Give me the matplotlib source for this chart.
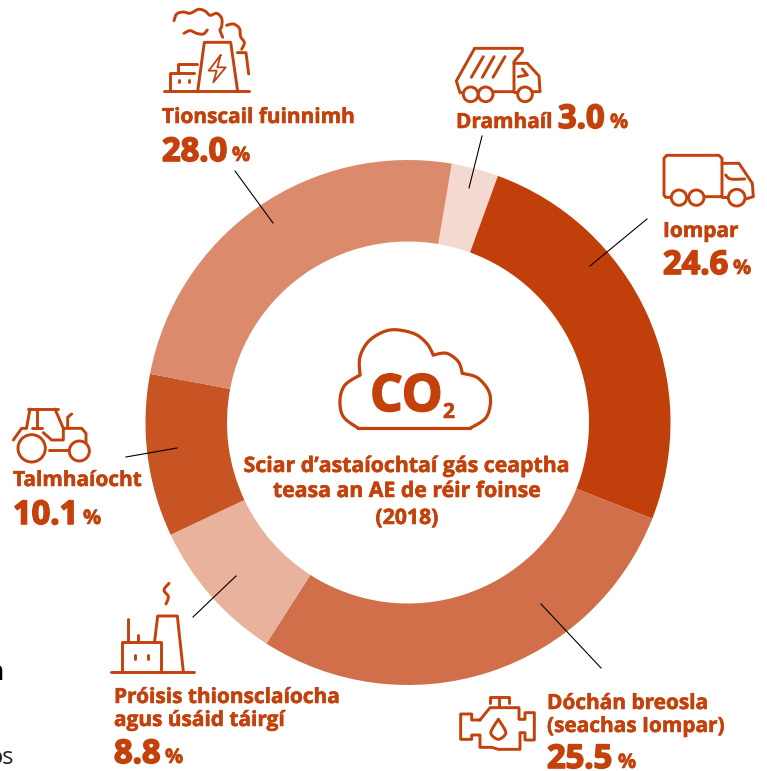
"""
plot.py

Doughnut chart of EU greenhouse gas emissions by source (2018), Irish labels.
"""

import numpy as np
import matplotlib
matplotlib.use('Agg')
import matplotlib.pyplot as plt
import matplotlib.patheffects as pe
from matplotlib.patches import Circle

plt.rcParams['font.family'] = ['Open Sans', 'DejaVu Sans']

sources = ['Dramhaíl', 'Iompar', 'Dóchán breosla\n(seachas Iompar)',
           'Próisis thionsclaíocha\nagus úsáid táirgí', 'Talmhaíocht', 'Tionscail fuinnimh']
# printed numbers
printed_values = ['3.0', '24.6', '25.5', '8.8', '10.1', '28.0']
# the drawn slices do not follow the printed numbers, these are read off the ring
slice_shares = [2.9, 25.4, 28.1, 8.9, 10.0, 24.7]
slice_colors = ['#F3D9CF', '#C13F0A', '#D06F49', '#E8B29D', '#C85323', '#DB8B6C']

ORANGE = '#C4410B'
center_lines = ['Sciar d’astaíochtaí gás ceaptha', 'teasa an AE de réir foinse', '(2018)']

fig = plt.figure(figsize=(7.67, 7.71), dpi=100)
ax = fig.add_axes([0, 0, 1, 1])

# y is inverted so that axes units are picture pixels, hence counterclock=True
ax.pie(slice_shares, colors=slice_colors, center=(408, 422.5), radius=262.5,
       startangle=-80.4, counterclock=True, frame=True,
       wedgeprops=dict(width=81.5, linewidth=0))
ax.set_xlim(0, 767)
ax.set_ylim(771, 0)
ax.set_aspect('equal')
ax.axis('off')


def smooth(pts, n=12):
    # Catmull-Rom through the points
    pts = np.array(pts, dtype=float)
    p = np.vstack([pts[0], pts, pts[-1]])
    out = []
    for i in range(1, len(p) - 2):
        for t in np.linspace(0, 1, n, endpoint=False):
            out.append(0.5 * (2 * p[i] + (p[i + 1] - p[i - 1]) * t
                              + (2 * p[i - 1] - 5 * p[i] + 4 * p[i + 1] - p[i + 2]) * t ** 2
                              + (3 * p[i] - p[i - 1] - 3 * p[i + 1] + p[i + 2]) * t ** 3))
    out.append(pts[-1])
    return np.array(out)


def icon(lines, curves=(), rings=(), offset=(0, 0), lw=2.1):
    # icon shapes are noted in 3x zoom coordinates
    for pts in lines:
        pts = np.array(pts, dtype=float) / 3 + offset
        ax.plot(pts[:, 0], pts[:, 1], color=ORANGE, lw=lw, solid_capstyle='round', solid_joinstyle='round')
    for pts in curves:
        pts = smooth(pts) / 3 + offset
        ax.plot(pts[:, 0], pts[:, 1], color=ORANGE, lw=lw, solid_capstyle='round', solid_joinstyle='round')
    for x, y, r in rings:
        ax.add_patch(Circle((x / 3 + offset[0], y / 3 + offset[1]), r / 3, fc='white', ec=ORANGE, lw=lw, zorder=3))


# power plant
icon([[(493, 274), (748, 274)], [(593, 274), (613, 127), (692, 127), (713, 274)],
      [(511, 274), (511, 219), (582, 219)], [(533, 219), (533, 192), (590, 192)],
      [(538, 241), (538, 247)], [(566, 241), (566, 247)], [(712, 158), (738, 158), (746, 222)]],
     curves=[[(522, 62), (530, 42), (550, 36), (570, 40), (595, 28), (615, 33), (630, 46),
              (650, 40), (665, 55), (665, 80), (660, 90), (668, 112)],
             [(680, 76), (700, 72), (718, 85), (722, 110), (733, 128), (725, 148)],
             [(552, 100), (570, 92), (590, 100), (610, 102), (622, 90)]])
icon([[(662, 165), (626, 212), (650, 212), (640, 247), (677, 202), (652, 202), (662, 165)]], lw=1.3)

# garbage truck
icon([[(272, 145), (415, 145), (415, 155), (390, 185), (390, 275), (328, 275)],
      [(272, 145), (217, 243), (228, 278), (240, 278)],
      [(390, 190), (430, 190), (465, 228), (468, 275), (446, 275)], [(390, 275), (402, 275)],
      [(415, 207), (430, 225), (403, 230)],
      [(298, 170), (262, 232)], [(330, 170), (295, 232)], [(363, 170), (327, 232)]],
     rings=[(260, 283, 22), (305, 283, 22), (423, 283, 22)], offset=(384, 0))

# lorry
icon([[(860, 592), (845, 592), (840, 585), (840, 475), (848, 466), (1005, 466), (1014, 475), (1014, 590), (960, 590)],
      [(1014, 490), (1065, 490), (1105, 550), (1108, 590), (1085, 597)], [(1014, 590), (1033, 590)]],
     curves=[[(1025, 525), (1040, 537), (1082, 537)]],
     rings=[(885, 593, 23), (937, 593, 23), (1058, 593, 25)], offset=(384, 0))

# small factory
icon([[(333, 335), (583, 335)], [(365, 335), (365, 247), (484, 247), (484, 335)],
      [(464, 243), (473, 168), (532, 168), (550, 335)],
      [(385, 176), (385, 247)], [(414, 225), (414, 247)],
      [(405, 285), (405, 297)], [(443, 285), (443, 297)]],
     curves=[[(507, 70), (492, 90), (505, 110), (498, 132)]], offset=(0, 560))

# engine
icon([[(150, 128), (150, 110), (207, 110), (207, 128)], [(178, 112), (178, 142)],
      [(120, 180), (150, 143), (237, 143), (237, 178), (255, 178), (255, 158), (283, 158), (283, 240),
       (255, 240), (255, 218), (240, 218), (240, 268), (175, 268), (155, 262), (120, 262), (120, 225),
       (95, 225), (95, 238), (62, 238), (62, 162), (95, 162), (95, 180), (120, 180)]],
     curves=[[(175, 178), (155, 210), (155, 225), (175, 238), (195, 225), (195, 210), (175, 178)]],
     offset=(440, 660))

# tractor
icon([[(148, 180), (208, 180)], [(85, 57), (175, 57)], [(90, 57), (80, 112)], [(112, 57), (112, 115)],
      [(165, 57), (190, 115), (190, 150), (155, 150), (130, 128)], [(95, 115), (125, 115)],
      [(190, 115), (245, 115), (258, 130), (258, 160)], [(203, 112), (203, 82), (215, 72)],
      [(40, 150), (65, 115), (80, 115)]],
     rings=[(95, 175, 41), (238, 183, 30)], offset=(0, 390))

# CO2 cloud
icon([[(385, 325), (720, 325)]],
     curves=[[(385, 325), (340, 290), (330, 240), (345, 195), (390, 165)],
             [(390, 165), (390, 110), (420, 60), (480, 30), (550, 40), (590, 70), (610, 105)],
             [(610, 105), (650, 100), (685, 125), (697, 160)],
             [(697, 160), (745, 175), (780, 225), (770, 290), (720, 325)]],
     offset=(230, 320), lw=2.3)

# the reference type is heavier than Open Sans Bold, a thin outline makes up for it
light = [pe.withStroke(linewidth=0.4, foreground=ORANGE)]
heavy = [pe.withStroke(linewidth=1.2, foreground=ORANGE)]

ax.text(370, 411, 'CO', color=ORANGE, fontsize=37, fontweight='bold', va='baseline', path_effects=heavy)
ax.text(443, 418, '2', color=ORANGE, fontsize=15, fontweight='bold', va='baseline', path_effects=light)
for line, y in zip(center_lines, [472, 497, 524]):
    ax.text(407, y, line, color=ORANGE, fontsize=15.3, fontweight='bold', ha='center', va='baseline',
            path_effects=light)

# label anchors, one per source: x, name baseline(s), number x, number baseline, percent x
name_pos = [(456, [128]), (663, [237]), (547, [709, 732]), (114, [703, 726]), (13, [486]), (162, [123])]
number_pos = [(558, 128), (663, 274), (547, 768), (114, 763), (13, 524), (162, 161)]
percent_x = [610, 733, 618, 165, 83, 232]

for name, value, (nx, nys), (vx, vy), px in zip(sources, printed_values, name_pos, number_pos, percent_x):
    for line, y in zip(name.split('\n'), nys):
        ax.text(nx, y, line, color=ORANGE, fontsize=15, fontweight='bold', va='baseline', path_effects=light)
    ax.text(vx, vy, value, color=ORANGE, fontsize=23.5, fontweight='bold', va='baseline', path_effects=heavy)
    ax.text(px, vy, '%', color=ORANGE, fontsize=14.5, fontweight='bold', va='baseline', path_effects=light)

# leader lines
leaders = [((482, 136), (469, 188)), ((647, 219), (590, 266)), ((601, 668), (541, 604)),
           ((193, 617), (236, 576)), ((126, 457), (177, 448)), ((235, 171), (273, 223))]
for a, b in leaders:
    ax.plot([a[0], b[0]], [a[1], b[1]], color='black', lw=0.8)

# bits of neighbouring text cut off at the left edge of the picture
ax.text(-13, 680, 'n', color='black', fontsize=19, fontweight='bold', va='baseline')
ax.text(-11.5, 764, 'os', color='#222222', fontsize=17, va='baseline')

fig.savefig('out.png', dpi=100)
